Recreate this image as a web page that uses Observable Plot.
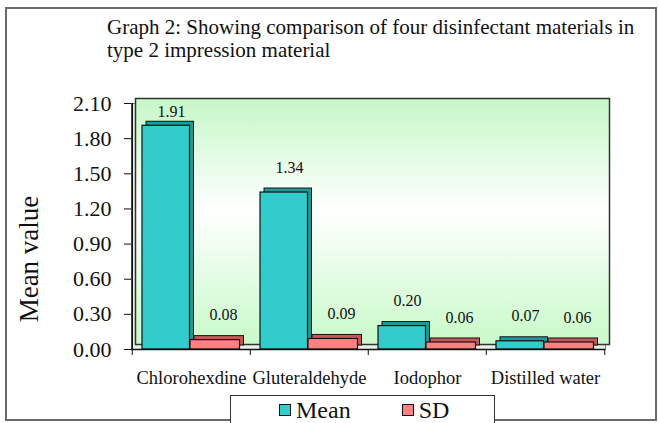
<!DOCTYPE html>
<html>
<head>
<meta charset="utf-8">
<script src="https://cdn.jsdelivr.net/npm/d3@7"></script>
<script src="https://cdn.jsdelivr.net/npm/@observablehq/plot@0.6"></script>
<style>
  html, body { margin: 0; padding: 0; background: #fff; }
  #wrap { position: relative; width: 659px; height: 423px; overflow: hidden; font-family: "Liberation Serif", serif; }
  #border { position: absolute; left: 5px; top: 7px; width: 652px; height: 414px; border: 2px solid #6a6a6a; box-sizing: border-box; }
  #title { position: absolute; left: 107px; top: 16px; font-size: 21px; line-height: 23px; color: #111; white-space: nowrap; font-family: "Liberation Serif", serif; }
  #ylabel { position: absolute; left: 29px; top: 259px; font-size: 27px; color: #111; white-space: nowrap; transform: translate(-50%, -50%) rotate(-90deg); font-family: "Liberation Serif", serif; }
  #chart { position: absolute; left: 0; top: 0; }
  #legend { position: absolute; left: 230px; top: 395px; width: 265px; height: 28px; border: 1.5px solid #333; border-bottom: none; box-sizing: border-box; background: #fff; display: flex; justify-content: flex-start; align-items: center; gap: 51px; padding-left: 48px; font-size: 24px; line-height: 22px; color: #111; font-family: "Liberation Serif", serif; padding-top: 1px; }
  .item { display: flex; align-items: center; gap: 5px; }
  .sw { width: 10px; height: 10px; border: 1.5px solid #111; display: inline-block; }
</style>
</head>
<body>
<div id="wrap">
  <div id="chart"></div>
  <div id="border"></div>
  <div id="title">Graph 2: Showing comparison of four disinfectant materials in<br>type 2 impression material</div>
  <div id="ylabel"></div>
  <div id="legend"></div>
</div>
<script>
const categories = ["Chlorohexdine", "Gluteraldehyde", "Iodophor", "Distilled water"];
const meanValues = [1.91, 1.34, 0.20, 0.07];
const sdValues = [0.08, 0.09, 0.06, 0.06];
const seriesNames = ["Mean", "SD"];
const yTicks = [0, 0.3, 0.6, 0.9, 1.2, 1.5, 1.8, 2.1];
const yLabel = "Mean value";

const colors = {Mean: "#33cccc", SD: "#ff8080"};
const darkColors = {Mean: "#1f9a9a", SD: "#c85858"};
const serif = "Liberation Serif, serif";

const W = 659, H = 423, ML = 131, MR = 54, MT = 103, MB = 74;
const bw = (W - ML - MR) / categories.length;
const yMax = yTicks[yTicks.length - 1];

const meanData = categories.map((c, i) => ({category: c, value: meanValues[i]}));
const sdData = categories.map((c, i) => ({category: c, value: sdValues[i]}));
const labelY = d => Math.min(d.value, yMax * 0.866);

function bars(data, key, insetLeft, insetRight) {
  return [
    Plot.barY(data, {x: "category", y: "value", insetLeft, insetRight, dx: 4, dy: -4, fill: darkColors[key], stroke: "#111", strokeWidth: 1}),
    Plot.barY(data, {x: "category", y: "value", insetLeft, insetRight, fill: colors[key], stroke: "#111", strokeWidth: 1.2})
  ];
}

const chart = Plot.plot({
  width: W, height: H,
  marginLeft: ML, marginRight: MR, marginTop: MT, marginBottom: MB,
  style: {fontFamily: serif, color: "#111", background: "transparent"},
  x: {type: "band", domain: categories, paddingInner: 0, paddingOuter: 0},
  y: {domain: [0, yMax]},
  marks: [
    Plot.frame({fill: "#e9efe9", stroke: "#777", strokeWidth: 1}),
    Plot.frame({fill: "url(#wallGrad)", stroke: "#333", strokeWidth: 1.5, dx: 4, dy: -5}),
    ...bars(meanData, "Mean", 10, bw - 58),
    ...bars(sdData, "SD", 58, bw - 108),
    Plot.text(meanData, {x: "category", y: labelY, text: d => d.value.toFixed(2), dx: -20, dy: -25, fontSize: 16, fontFamily: serif}),
    Plot.text(sdData, {x: "category", y: labelY, text: d => d.value.toFixed(2), dx: 32, dy: -25, fontSize: 16, fontFamily: serif}),
    Plot.ruleY([0], {stroke: "#111", strokeWidth: 1.5}),
    Plot.ruleX([categories[0]], {y1: 0, y2: yMax, dx: -bw / 2, stroke: "#111", strokeWidth: 1.5}),
    Plot.axisY({ticks: yTicks, tickFormat: d => d.toFixed(2), tickSize: 7, tickPadding: 13, fontSize: 22, fontFamily: serif, label: null, stroke: "#111"}),
    Plot.axisX({tickFormat: () => "", tickSize: 6, dx: -bw / 2, label: null, stroke: "#111"}),
    Plot.axisX({ticks: [categories[categories.length - 1]], tickFormat: () => "", tickSize: 6, dx: bw / 2, label: null, stroke: "#111"}),
    Plot.axisX({tickSize: 0, tickPadding: 21, fontSize: 18.5, fontFamily: serif, label: null})
  ]
});

const svg = d3.select(chart);
const grad = svg.insert("defs", ":first-child").append("linearGradient")
  .attr("id", "wallGrad").attr("x1", 0).attr("y1", 0).attr("x2", 0).attr("y2", 1);
grad.append("stop").attr("offset", "0%").attr("stop-color", "#c6f7c6");
grad.append("stop").attr("offset", "45%").attr("stop-color", "#ffffff");
grad.append("stop").attr("offset", "100%").attr("stop-color", "#c9fac9");

document.getElementById("chart").appendChild(chart);
document.getElementById("ylabel").textContent = yLabel;

const legend = document.getElementById("legend");
seriesNames.forEach(name => {
  const item = document.createElement("div");
  item.className = "item";
  const sw = document.createElement("span");
  sw.className = "sw";
  sw.style.background = colors[name];
  const t = document.createElement("span");
  t.textContent = name;
  item.appendChild(sw);
  item.appendChild(t);
  legend.appendChild(item);
});
</script>
</body>
</html>
